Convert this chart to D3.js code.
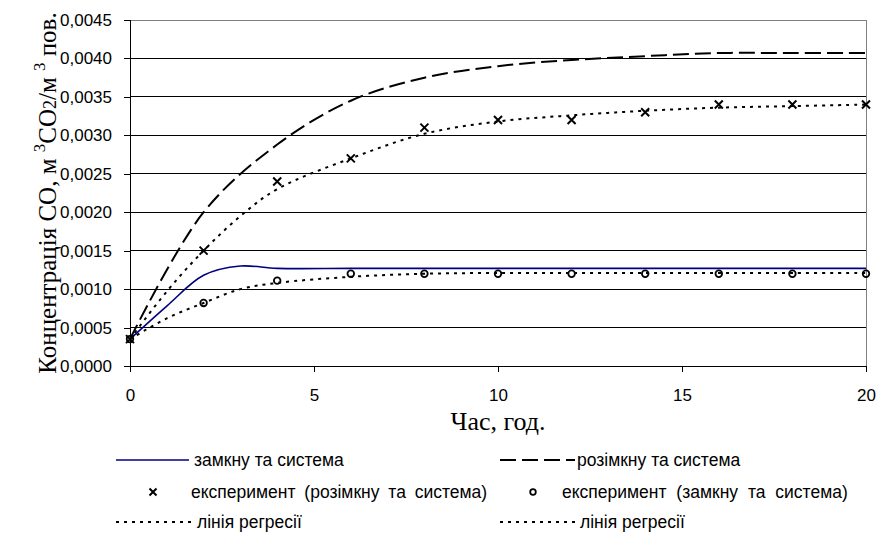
<!DOCTYPE html>
<html>
<head>
<meta charset="utf-8">
<script src="https://cdn.jsdelivr.net/npm/d3@7"></script>
<style>
  body { margin: 0; background: #fff; }
  svg { display: block; }
</style>
</head>
<body>
<div class="displayArea"></div>
<script>
// дані
const closedLine = [[0, 0.00035], [1, 0.00078], [2, 0.00118], [3, 0.0013], [4, 0.00127], [6, 0.00127],
    [8, 0.00127], [10, 0.00127], [12, 0.00127], [14, 0.00127], [16, 0.00127], [18, 0.00127], [20, 0.00127]];
const openLine = [[0, 0.00035], [2, 0.0020], [4, 0.00288], [6, 0.00345], [8, 0.00375], [10, 0.0039],
    [12, 0.00398], [14, 0.00403], [16, 0.00407], [18, 0.00407], [20, 0.00407]];
const expOpen = [[0, 0.00035], [2, 0.0015], [4, 0.0024], [6, 0.0027], [8, 0.0031], [10, 0.0032],
    [12, 0.0032], [14, 0.0033], [16, 0.0034], [18, 0.0034], [20, 0.0034]];
const expClosed = [[0, 0.00035], [2, 0.00082], [4, 0.00111], [6, 0.0012], [8, 0.0012], [10, 0.0012],
    [12, 0.0012], [14, 0.0012], [16, 0.0012], [18, 0.0012], [20, 0.0012]];
const regOpen = [[0, 0.00035], [1, 0.00097], [2, 0.0015], [3, 0.00195], [4, 0.0023], [6, 0.0027],
    [8, 0.00302], [10, 0.00318], [12, 0.00326], [14, 0.00332], [16, 0.00336], [18, 0.00338], [20, 0.0034]];
const regClosed = [[0, 0.00035], [1, 0.00062], [2, 0.00082], [3, 0.001], [4, 0.00108], [6, 0.00116],
    [8, 0.0012], [10, 0.00121], [12, 0.00121], [14, 0.00121], [16, 0.00121], [18, 0.00121], [20, 0.00121]];
const xTicks = [0, 5, 10, 15, 20];
const yTicks = [0, 0.0005, 0.001, 0.0015, 0.002, 0.0025, 0.003, 0.0035, 0.004, 0.0045];
const legendNames = ["замкну та система", "розімкну та система", "експеримент (розімкну та система)",
    "експеримент (замкну та система)", "лінія регресії", "лінія регресії"];

const W = 882, H = 533;
const m = { left: 130, right: 16, top: 20, bottom: 167 };

const svg = d3.select(".displayArea").append("svg")
    .attr("width", W)
    .attr("height", H);

const x = d3.scaleLinear().domain([0, 20]).range([m.left, W - m.right]);
const y = d3.scaleLinear().domain([0, 0.0045]).range([H - m.bottom, m.top]);

const fmt = d => d3.format(".4f")(d).replace(".", ",");

// сітка
svg.append("g")
    .selectAll("line")
    .data(yTicks.slice(1))
    .enter()
    .append("line")
    .attr("x1", x(0)).attr("x2", x(20))
    .attr("y1", d => y(d)).attr("y2", d => y(d))
    .style("stroke", d => d === 0.0045 ? "#808080" : "#000")
    .style("stroke-width", 1)
    .attr("shape-rendering", "crispEdges");

svg.append("line")
    .attr("x1", x(20)).attr("x2", x(20))
    .attr("y1", y(0)).attr("y2", y(0.0045))
    .style("stroke", "#808080")
    .attr("shape-rendering", "crispEdges");

// осі
const yAxis = svg.append("g")
    .attr("transform", `translate(${x(0)},0)`)
    .call(d3.axisLeft(y).tickValues(yTicks).tickFormat(fmt).tickSize(6).tickPadding(12));
const xAxis = svg.append("g")
    .attr("transform", `translate(0,${y(0)})`)
    .call(d3.axisBottom(x).tickValues(xTicks).tickFormat(d3.format("d")).tickSize(6).tickPadding(17));

[yAxis, xAxis].forEach(a => {
    a.select(".domain").style("stroke", "#000").attr("shape-rendering", "crispEdges");
    a.selectAll(".tick line").style("stroke", "#000").attr("shape-rendering", "crispEdges");
    a.selectAll("text")
        .style("font-family", "'Liberation Sans', Arial, sans-serif")
        .style("font-size", "17px")
        .style("fill", "#000");
});

// підписи осей
svg.append("text")
    .attr("x", (x(0) + x(20)) / 2)
    .attr("y", 430)
    .attr("text-anchor", "middle")
    .style("font-family", "'Liberation Serif', 'Times New Roman', serif")
    .style("font-size", "26px")
    .text("Час, год.");

const yTitle = svg.append("text")
    .attr("transform", `translate(56,${(y(0) + y(0.0045)) / 2}) rotate(-90)`)
    .attr("text-anchor", "middle")
    .style("font-family", "'Liberation Serif', 'Times New Roman', serif")
    .style("font-size", "25px");
yTitle.append("tspan").text("Концентрація СО, м ");
yTitle.append("tspan").attr("dy", -11).style("font-size", "17px").text("3");
yTitle.append("tspan").attr("dy", 11).text("СО");
yTitle.append("tspan").style("font-size", "18px").text("2");
yTitle.append("tspan").text("/м ");
yTitle.append("tspan").attr("dy", -11).style("font-size", "17px").text("3");
yTitle.append("tspan").attr("dy", 11).text(" пов.");

// лінії
const line = d3.line()
    .x(d => x(d[0]))
    .y(d => y(d[1]))
    .curve(d3.curveCatmullRom);

const plot = svg.append("g");

plot.append("path").datum(regClosed)
    .attr("d", line)
    .style("fill", "none").style("stroke", "#000")
    .style("stroke-width", 2).style("stroke-dasharray", "3,5");

plot.append("path").datum(regOpen)
    .attr("d", line)
    .style("fill", "none").style("stroke", "#000")
    .style("stroke-width", 2).style("stroke-dasharray", "3,5");

plot.append("path").datum(openLine)
    .attr("d", line)
    .style("fill", "none").style("stroke", "#000")
    .style("stroke-width", 2).style("stroke-dasharray", "16,6");

plot.append("path").datum(closedLine)
    .attr("d", line)
    .style("fill", "none").style("stroke", "#000080")
    .style("stroke-width", 1.6);

// маркери
const cross = "M-4,-4L4,4M-4,4L4,-4";
plot.selectAll(".crossMark")
    .data(expOpen)
    .enter()
    .append("path")
    .attr("class", "crossMark")
    .attr("transform", d => `translate(${x(d[0])},${y(d[1])})`)
    .attr("d", cross)
    .style("stroke", "#000").style("stroke-width", 2).style("fill", "none");

plot.selectAll(".circleMark")
    .data(expClosed)
    .enter()
    .append("circle")
    .attr("class", "circleMark")
    .attr("cx", d => x(d[0])).attr("cy", d => y(d[1]))
    .attr("r", 3.3)
    .style("stroke", "#000").style("stroke-width", 1.8).style("fill", "none");

// легенда
const legend = svg.append("g")
    .style("font-family", "'Liberation Sans', Arial, sans-serif")
    .style("font-size", "17.5px");

const rows = [460, 492, 522];

function legendLine(x1, x2, yy, color, dash, width) {
    legend.append("line")
        .attr("x1", x1).attr("x2", x2).attr("y1", yy).attr("y2", yy)
        .style("stroke", color).style("stroke-width", width)
        .style("stroke-dasharray", dash);
}
function legendText(xx, yy, t, ws) {
    legend.append("text").attr("x", xx).attr("y", yy + 6)
        .style("word-spacing", ws ? ws + "px" : null)
        .text(t);
}

legendLine(116, 189, rows[0], "#000080", null, 1.6);
legendText(194, rows[0], legendNames[0]);
legendLine(500, 575, rows[0], "#000", "16,6", 2);
legendText(577, rows[0], legendNames[1]);

legend.append("path")
    .attr("transform", `translate(153,${rows[1]})`)
    .attr("d", "M-3.5,-3.5L3.5,3.5M-3.5,3.5L3.5,-3.5")
    .style("stroke", "#000").style("stroke-width", 2);
legendText(191, rows[1], legendNames[2], 4);
legend.append("circle")
    .attr("cx", 533).attr("cy", rows[1]).attr("r", 2.8)
    .style("stroke", "#000").style("stroke-width", 1.8).style("fill", "none");
legendText(562, rows[1], legendNames[3], 5);

legendLine(116, 193, rows[2], "#000", "3,5", 2);
legendText(197, rows[2], legendNames[4]);
legendLine(500, 578, rows[2], "#000", "3,5", 2);
legendText(580, rows[2], legendNames[5]);
</script>
</body>
</html>
